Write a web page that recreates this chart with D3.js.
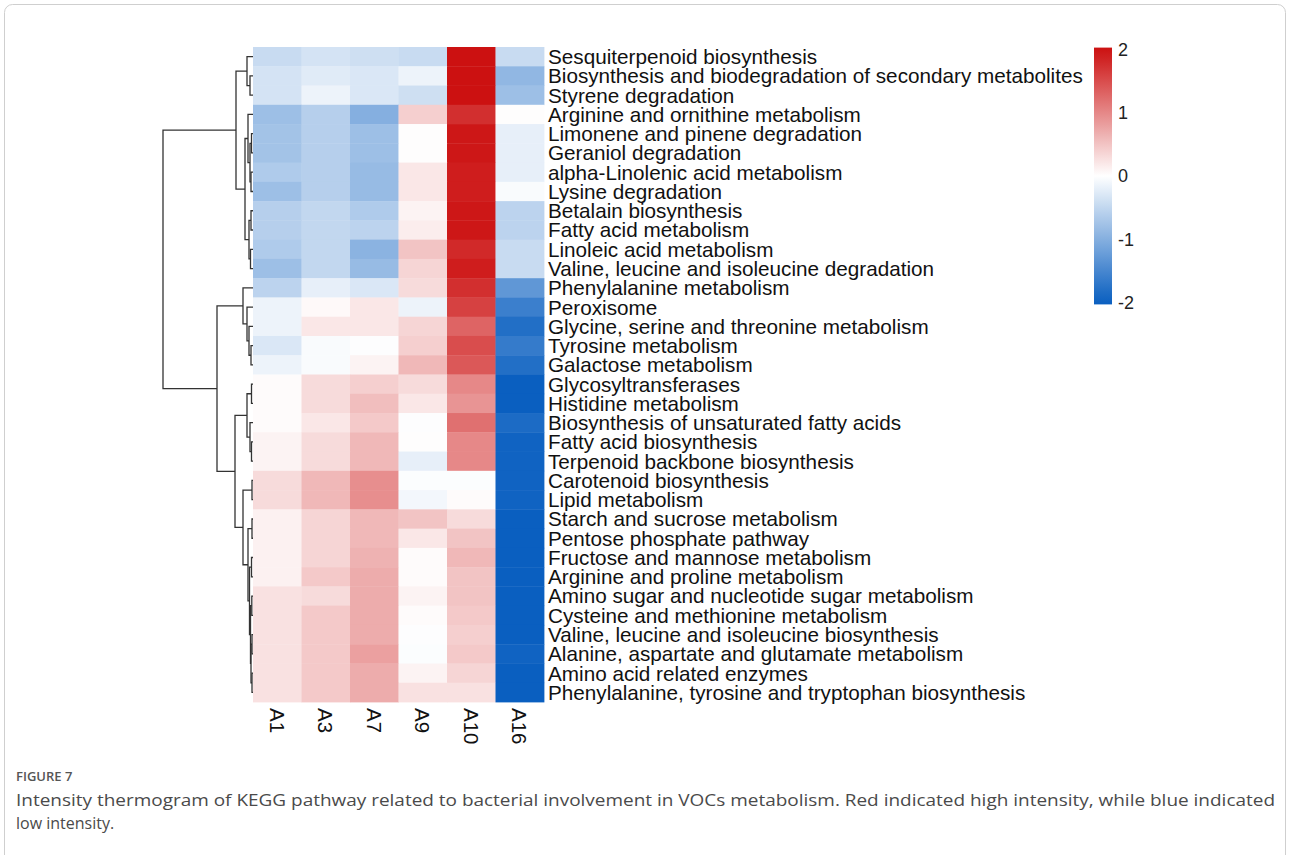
<!DOCTYPE html>
<html>
<head>
<meta charset="utf-8">
<script src="https://cdn.jsdelivr.net/npm/d3@7"></script>
<style>
  body { margin: 0; background: #ffffff; }
  svg { display: block; }
</style>
</head>
<body>
<svg id="chart" width="1290" height="855"></svg>
<script>
// Samples (columns) and KEGG pathways (rows), in clustered order
const samples = ["A1", "A3", "A7", "A9", "A10", "A16"];

const pathways = [
  "Sesquiterpenoid biosynthesis",
  "Biosynthesis and biodegradation of secondary metabolites",
  "Styrene degradation",
  "Arginine and ornithine metabolism",
  "Limonene and pinene degradation",
  "Geraniol degradation",
  "alpha-Linolenic acid metabolism",
  "Lysine degradation",
  "Betalain biosynthesis",
  "Fatty acid metabolism",
  "Linoleic acid metabolism",
  "Valine, leucine and isoleucine degradation",
  "Phenylalanine metabolism",
  "Peroxisome",
  "Glycine, serine and threonine metabolism",
  "Tyrosine metabolism",
  "Galactose metabolism",
  "Glycosyltransferases",
  "Histidine metabolism",
  "Biosynthesis of unsaturated fatty acids",
  "Fatty acid biosynthesis",
  "Terpenoid backbone biosynthesis",
  "Carotenoid biosynthesis",
  "Lipid metabolism",
  "Starch and sucrose metabolism",
  "Pentose phosphate pathway",
  "Fructose and mannose metabolism",
  "Arginine and proline metabolism",
  "Amino sugar and nucleotide sugar metabolism",
  "Cysteine and methionine metabolism",
  "Valine, leucine and isoleucine biosynthesis",
  "Alanine, aspartate and glutamate metabolism",
  "Amino acid related enzymes",
  "Phenylalanine, tyrosine and tryptophan biosynthesis"
];

// Row-scaled intensity (z-score), one row per pathway, columns in sample order
const zscores = [
  [-0.45, -0.35, -0.40, -0.45,  2.00, -0.45],
  [-0.35, -0.25, -0.30, -0.15,  2.00, -0.90],
  [-0.35, -0.15, -0.30, -0.40,  2.00, -0.80],
  [-0.80, -0.60, -1.00,  0.40,  1.75,  0.02],
  [-0.75, -0.60, -0.80,  0.02,  1.95, -0.20],
  [-0.75, -0.60, -0.80,  0.02,  1.95, -0.20],
  [-0.65, -0.60, -0.85,  0.20,  1.90, -0.20],
  [-0.80, -0.60, -0.85,  0.20,  1.90, -0.05],
  [-0.60, -0.50, -0.65,  0.10,  1.95, -0.55],
  [-0.60, -0.50, -0.55,  0.15,  1.95, -0.55],
  [-0.65, -0.50, -0.95,  0.50,  1.80, -0.45],
  [-0.80, -0.50, -0.85,  0.35,  1.90, -0.45],
  [-0.55, -0.20, -0.30,  0.30,  1.75, -1.30],
  [-0.15,  0.05,  0.20, -0.15,  1.60, -1.60],
  [-0.15,  0.20,  0.20,  0.35,  1.30, -1.80],
  [-0.30, -0.05, -0.02,  0.40,  1.50, -1.65],
  [-0.15, -0.05,  0.10,  0.60,  1.40, -1.80],
  [ 0.03,  0.30,  0.40,  0.30,  1.00, -2.00],
  [ 0.03,  0.30,  0.55,  0.20,  0.90, -2.00],
  [ 0.03,  0.20,  0.45, -0.02,  1.20, -1.85],
  [ 0.10,  0.30,  0.60,  0.02,  1.00, -1.95],
  [ 0.10,  0.30,  0.60, -0.20,  1.00, -1.95],
  [ 0.30,  0.60,  0.95, -0.03, -0.03, -1.95],
  [ 0.30,  0.60,  0.95, -0.10,  0.03, -1.95],
  [ 0.12,  0.35,  0.60,  0.50,  0.30, -2.00],
  [ 0.12,  0.35,  0.60,  0.20,  0.50, -2.00],
  [ 0.12,  0.35,  0.65,  0.03,  0.60, -2.00],
  [ 0.12,  0.45,  0.70,  0.03,  0.50, -2.00],
  [ 0.25,  0.30,  0.70,  0.10,  0.50, -2.00],
  [ 0.25,  0.45,  0.70,  0.03,  0.45, -2.00],
  [ 0.25,  0.45,  0.70, -0.02,  0.40, -2.00],
  [ 0.25,  0.45,  0.80, -0.03,  0.45, -1.95],
  [ 0.25,  0.45,  0.70,  0.10,  0.35, -2.00],
  [ 0.25,  0.45,  0.70,  0.25,  0.25, -2.00]
];

// Row clustering: [merge height, left, right]; a number is a row index
const rowTree =
  [90,
    [17,
      [6, 0, [3, 1, 2]],
      [8,
        [5, 3, [3, [1.5, 4, 5], [2, 6, 7]]],
        [4, [2, 8, 9], [2.5, 10, 11]]]],
    [36,
      [10, 12, [6, 13, [4, 14, [2, 15, 16]]]],
      [18,
        [6, [1.5, 17, 18], [3, 19, [1.5, 20, 21]]],
        [10,
          [1, 22, 23],
          [5,
            [1, 24, 25],
            [3.5,
              [1.5, 26, 27],
              [2.5, [1.2, 28, 29], [2, [1, 30, 31], [1, 32, 33]]]]]]]]];

const legendTicks = [2, 1, 0, -1, -2];

const captionLabel = "FIGURE 7";
const captionLines = [
  "Intensity thermogram of KEGG pathway related to bacterial involvement in VOCs metabolism. Red indicated high intensity, while blue indicated",
  "low intensity."
];

// ---------------------------------------------------------------------------
const svg = d3.select("#chart");
const labelFont = "'Liberation Sans', Arial, sans-serif";

// Outer figure frame
svg.append("rect")
  .attr("x", 4.5).attr("y", 4.5)
  .attr("width", 1281).attr("height", 900)
  .attr("rx", 8)
  .attr("fill", "none")
  .attr("stroke", "#cfcfcf")
  .attr("stroke-width", 1);

const x = d3.scaleBand().domain(samples).range([253, 544]);
const y = d3.scaleBand().domain(pathways).range([47, 702]);
const color = d3.scaleLinear()
  .domain([-2, 0, 2])
  .range(["#0a5fc0", "#ffffff", "#cc1111"])
  .clamp(true);

// Heatmap cells
const cells = [];
zscores.forEach((row, i) => row.forEach((v, j) => cells.push({ p: pathways[i], s: samples[j], v })));

svg.append("g")
  .selectAll("rect")
  .data(cells)
  .join("rect")
  .attr("x", d => x(d.s))
  .attr("y", d => y(d.p))
  .attr("width", x.bandwidth() + 0.4)
  .attr("height", y.bandwidth() + 0.4)
  .attr("fill", d => color(d.v));

// Row labels
svg.append("g")
  .selectAll("text")
  .data(pathways)
  .join("text")
  .attr("x", 548)
  .attr("y", d => y(d) + y.bandwidth() / 2)
  .attr("dy", "0.36em")
  .attr("font-family", labelFont)
  .attr("font-size", 20.7)
  .attr("fill", "#111")
  .text(d => d);

// Column labels, rotated to read downwards
svg.append("g")
  .selectAll("text")
  .data(samples)
  .join("text")
  .attr("transform", d => `translate(${x(d) + x.bandwidth() / 2},708) rotate(90)`)
  .attr("dy", "0.36em")
  .attr("font-family", labelFont)
  .attr("font-size", 20.5)
  .attr("fill", "#111")
  .text(d => d);

// Row dendrogram
const hx = d3.scaleLinear().domain([0, 90]).range([253, 163]);
const dendro = svg.append("g")
  .attr("fill", "none")
  .attr("stroke", "#333")
  .attr("stroke-width", 1.3);

function drawNode(node) {
  if (typeof node === "number") {
    return { y: y(pathways[node]) + y.bandwidth() / 2, h: 0 };
  }
  const [h, l, r] = node;
  const a = drawNode(l);
  const b = drawNode(r);
  const p = d3.path();
  p.moveTo(hx(a.h), a.y);
  p.lineTo(hx(h), a.y);
  p.lineTo(hx(h), b.y);
  p.lineTo(hx(b.h), b.y);
  dendro.append("path").attr("d", p.toString());
  return { y: (a.y + b.y) / 2, h };
}
drawNode(rowTree);

// Colour key
const ly = d3.scaleLinear().domain([2, -2]).range([49.5, 302.5]);
const defs = svg.append("defs");
const grad = defs.append("linearGradient")
  .attr("id", "keyGrad")
  .attr("x1", 0).attr("y1", 0).attr("x2", 0).attr("y2", 1);
d3.range(0, 1.0001, 0.05).forEach(t => {
  grad.append("stop")
    .attr("offset", t)
    .attr("stop-color", color(2.03 - t * 4.06));
});
svg.append("rect")
  .attr("x", 1094)
  .attr("y", ly(2.03))
  .attr("width", 18)
  .attr("height", ly(-2.03) - ly(2.03))
  .attr("fill", "url(#keyGrad)");

const keyAxis = svg.append("g")
  .attr("transform", "translate(1112,0)")
  .call(d3.axisRight(ly).tickValues(legendTicks).tickSize(0).tickPadding(6).tickFormat(d => String(d)));
keyAxis.select(".domain").remove();
keyAxis.selectAll("text")
  .attr("font-family", labelFont)
  .attr("font-size", 18)
  .attr("fill", "#222");

// Caption
const capFont = "'Open Sans', 'Noto Sans', sans-serif";
svg.append("text")
  .attr("x", 16).attr("y", 781)
  .attr("font-family", capFont)
  .attr("font-size", 13)
  .attr("font-weight", 600)
  .attr("fill", "#555")
  .text(captionLabel);

svg.append("g")
  .selectAll("text")
  .data(captionLines)
  .join("text")
  .attr("x", 16)
  .attr("y", (d, i) => 806 + i * 23)
  .attr("font-family", capFont)
  .attr("font-size", 16)
  .attr("fill", "#4a4a4a")
  .each(function (d, i) {
    if (i === 0) d3.select(this).attr("textLength", 1259).attr("lengthAdjust", "spacingAndGlyphs");
  })
  .text(d => d);
</script>
</body>
</html>
